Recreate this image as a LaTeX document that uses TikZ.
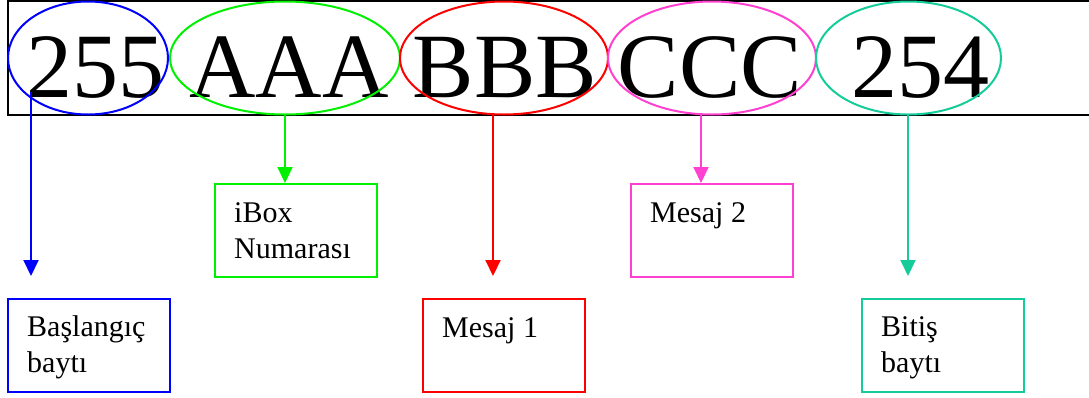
\documentclass[tikz,border=0pt]{standalone}
\usepackage{fontspec}
\setmainfont{Liberation Serif}
\usetikzlibrary{shapes.geometric,arrows.meta}
\definecolor{cblue}{RGB}{0,0,255}
\definecolor{cgreen}{RGB}{0,240,0}
\definecolor{cred}{RGB}{255,0,0}
\definecolor{cmag}{RGB}{255,64,208}
\definecolor{cteal}{RGB}{20,204,153}
\tikzset{
  oval/.style={draw,ellipse,line width=2pt,inner sep=0pt,minimum height=113pt},
  bigtxt/.style={anchor=base,inner sep=0pt,font=\fontsize{92}{100}\selectfont},
  infobox/.style={draw,rectangle,line width=2pt,minimum width=162pt,minimum height=93pt,inner sep=0pt},
  boxtxt/.style={anchor=base west,inner sep=0pt,align=left,font=\fontsize{30}{36}\selectfont},
  conn/.style={line width=2pt,-{Triangle[width=15pt,length=16pt]}}
}
\begin{document}
\begin{tikzpicture}[x=1pt,y=-1pt]
\useasboundingbox (0,0) rectangle (1089,397);
% top frame
\draw[line width=2pt] (1092,1) -- (8,1) -- (8,115) -- (1092,115);
% texts
\node[bigtxt] (t1) at (95,97) {255};
\node[bigtxt] (t2) at (289,97) {AAA};
\node[bigtxt] (t3) at (505,97) {BBB};
\node[bigtxt] (t4) at (710,97) {CCC};
\node[bigtxt] (t5) at (920,97) {254};
% ellipses
\node[oval,cblue,minimum width=160pt] (e1) at (88,58) {};
\node[oval,cgreen,minimum width=230pt] (e2) at (285,58) {};
\node[oval,cred,minimum width=208pt] (e3) at (504,58) {};
\node[oval,cmag,minimum width=208pt] (e4) at (712,58) {};
\node[oval,cteal,minimum width=185pt] (e5) at (908.5,58) {};
% boxes
\node[infobox,cblue] (b1) at (89,345.5) {};
\node[infobox,cgreen] (b2) at (296,230.5) {};
\node[infobox,cred] (b3) at (504,345.5) {};
\node[infobox,cmag] (b4) at (712,230.5) {};
\node[infobox,cteal] (b5) at (943,345.5) {};
% box texts (base = baseline of last line)
\node[boxtxt] (l1) at ([shift={(20,74)}]b1.north west) {Başlangıç\\baytı};
\node[boxtxt] (l2) at ([shift={(20,75)}]b2.north west) {iBox\\Numarası};
\node[boxtxt] (l3) at ([shift={(20,39)}]b3.north west) {Mesaj 1};
\node[boxtxt] (l4) at ([shift={(20,39)}]b4.north west) {Mesaj 2};
\node[boxtxt] (l5) at ([shift={(20,74)}]b5.north west) {Bitiş\\baytı};
% connectors
\coordinate (s1) at (31,92);
\coordinate (f1) at (31,276);
\draw[conn,cblue] (s1) -- (f1);
\coordinate (s2) at (285,115);
\draw[conn,cgreen] (s2) -- (s2 |- b2.north);
\coordinate (s3) at (493,115);
\coordinate (f3) at (493,276);
\draw[conn,cred] (s3) -- (f3);
\coordinate (s4) at (701,115);
\draw[conn,cmag] (s4) -- (s4 |- b4.north);
\coordinate (s5) at (908,115);
\coordinate (f5) at (908,276);
\draw[conn,cteal] (s5) -- (f5);
\end{tikzpicture}
\end{document}
